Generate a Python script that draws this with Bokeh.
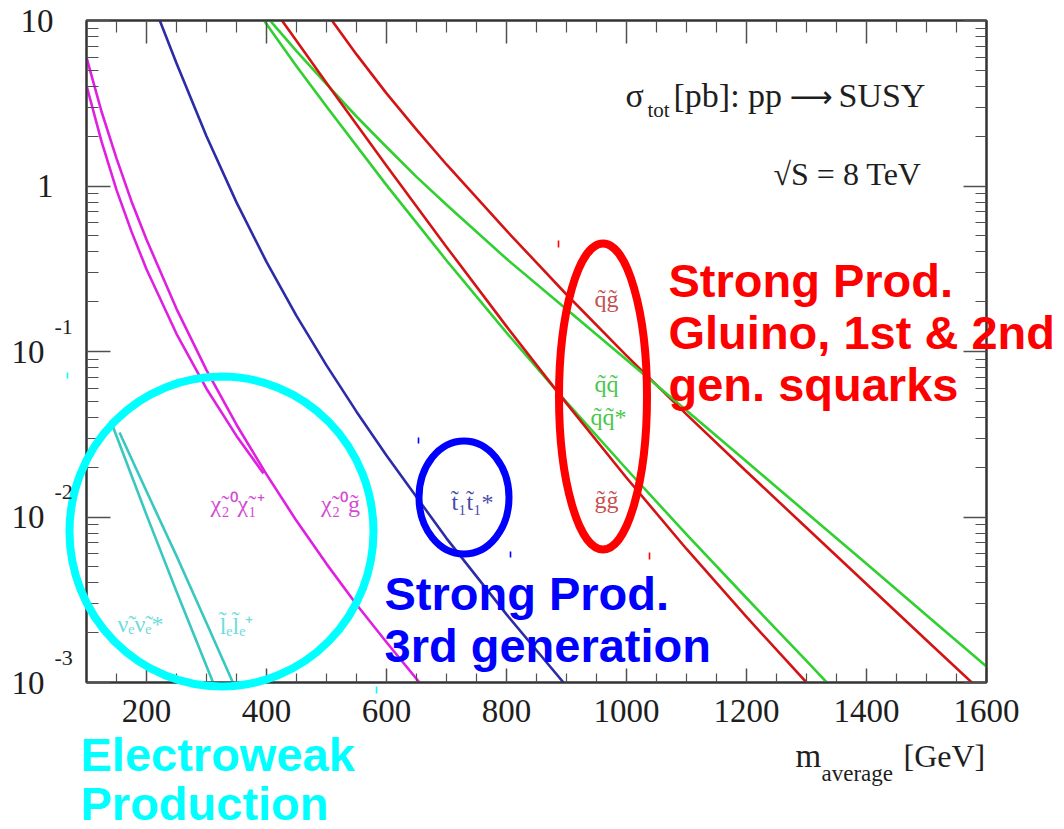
import math

from bokeh.plotting import figure
from bokeh.models import (FixedTicker, LinearAxis, LogAxis, CustomJSTickFormatter,
                          ColumnDataSource)
from bokeh.core.properties import value
from bokeh.embed import file_html
from bokeh.resources import INLINE

# ---------------------------------------------------------------------------
# Total SUSY production cross sections, pp at sqrt(s) = 8 TeV
# masses in GeV (average mass of the produced pair), cross sections in pb
# ---------------------------------------------------------------------------
M_SQ_GL = [500, 550, 600, 650, 700, 800, 900, 1000, 1100, 1200, 1300, 1400, 1500, 1580]
XS_SQ_GL = [11.1, 6.24, 3.63, 2.19, 1.349, 0.537, 0.221, 0.0944, 0.0417, 0.01884,
            0.00861, 0.00394, 0.0018, 0.000966]

M_SQ_SQ = [400, 450, 500, 550, 600, 650, 700, 800, 900, 1000, 1100, 1200, 1300, 1400,
           1500, 1600]
XS_SQ_SQ = [10.59, 6.53, 4.12, 2.63, 1.72, 1.135, 0.771, 0.363, 0.180, 0.0891, 0.0440,
            0.02163, 0.01062, 0.00521, 0.00255, 0.00125]

M_SQ_SQBAR = [390, 450, 500, 600, 700, 800, 900, 1000, 1100, 1200, 1300, 1335]
XS_SQ_SQBAR = [10.7, 5.30, 3.02, 1.012, 0.355, 0.130, 0.0495, 0.0195, 0.00785, 0.00324,
               0.00135, 0.00099]

M_GL_GL = [420, 460, 500, 600, 700, 800, 900, 1000, 1100, 1200, 1300]
XS_GL_GL = [10.7, 6.70, 4.19, 1.324, 0.4285, 0.1419, 0.0486, 0.01726, 0.00641, 0.00249, 0.0010]

M_ST_ST = [220, 250, 300, 350, 400, 450, 500, 550, 600, 700, 800, 895]
XS_ST_ST = [10.47, 5.51, 2.00, 0.796, 0.348, 0.164, 0.0824, 0.0433, 0.0235, 0.00743,
            0.00258, 0.0010]

M_N2_GL = [100, 125, 150, 175, 200, 250, 300, 350, 400, 450, 500, 550, 600, 655]
XS_N2_GL = [5.98, 2.82, 1.47, 0.807, 0.475, 0.181, 0.0771, 0.0361, 0.0181, 0.00948,
            0.00521, 0.00296, 0.00175, 0.0010]

M_N2_C1 = [100, 125, 150, 175, 200, 250, 300, 350, 395]
XS_N2_C1 = [4.05, 1.86, 0.948, 0.530, 0.314, 0.128, 0.0596, 0.0309, 0.0183]

M_SNU = [140, 200, 250, 311]
XS_SNU = [0.0384, 0.0103, 0.00355, 0.0010]

M_SLEP = [155, 200, 250, 300, 344]
XS_SLEP = [0.0324, 0.0143, 0.00582, 0.00229, 0.0010]

# axis ticks and labels
X_RANGE = (100, 1600)
Y_RANGE = (1e-3, 10)
X_MAJOR = [200, 400, 600, 800, 1000, 1200, 1400, 1600]
X_MINOR = [m for m in range(150, 1600, 50) if m not in X_MAJOR]
Y_MAJOR = [1e-3, 1e-2, 1e-1, 1, 10]
Y_MINOR = [k * 10.0 ** e for e in (-3, -2, -1, 0) for k in range(2, 10)]
Y_TICK_BASE = ["10", "10", "10", "1", "10"]
Y_TICK_EXP = ["-3", "-2", "-1", "", ""]

# ---------------------------------------------------------------------------
# page geometry (pixels)
# ---------------------------------------------------------------------------
CANVAS_W, CANVAS_H = 1064, 829
FRAME_L, FRAME_T, FRAME_W, FRAME_H = 86, 20, 900, 662
LOG_LO, LOG_HI = math.log10(Y_RANGE[0]), math.log10(Y_RANGE[1])


def at_x(px):
    """x data value under canvas pixel column px"""
    return X_RANGE[0] + (px - FRAME_L) / FRAME_W * (X_RANGE[1] - X_RANGE[0])


def at_y(py):
    """y data value under canvas pixel row py (log axis)"""
    return 10 ** (LOG_HI - (py - FRAME_T) / FRAME_H * (LOG_HI - LOG_LO))


def px_y(v):
    return FRAME_T + (LOG_HI - math.log10(v)) / (LOG_HI - LOG_LO) * FRAME_H


SERIF = "Liberation Serif"
SANS = "Liberation Sans"
INK = "#1e1e1e"

p = figure(frame_width=FRAME_W, frame_height=FRAME_H,
           x_range=X_RANGE, y_range=Y_RANGE, y_axis_type="log",
           output_backend="svg", toolbar_location=None,
           min_border_left=FRAME_L, min_border_top=FRAME_T,
           min_border_right=CANVAS_W - FRAME_L - FRAME_W,
           min_border_bottom=CANVAS_H - FRAME_T - FRAME_H)
p.xgrid.visible = False
p.ygrid.visible = False
p.background_fill_color = "white"
p.border_fill_color = "white"
p.outline_line_color = "#333333"
p.outline_line_width = 2

blank = CustomJSTickFormatter(code="return ''")
xticker = FixedTicker(ticks=X_MAJOR, minor_ticks=X_MINOR)
yticker = FixedTicker(ticks=Y_MAJOR, minor_ticks=Y_MINOR)


def style_axis(ax, major_len, minor_len):
    ax.major_tick_in = major_len
    ax.major_tick_out = 0
    ax.minor_tick_in = minor_len
    ax.minor_tick_out = 0
    ax.major_tick_line_color = "#505050"
    ax.minor_tick_line_color = "#505050"
    ax.major_tick_line_width = 1.5
    ax.minor_tick_line_width = 1.2
    ax.axis_line_color = "#333333"
    ax.axis_line_width = 2


xa = p.xaxis[0]
xa.ticker = xticker
style_axis(xa, 14, 9)
xa.major_label_text_font = SERIF
xa.major_label_text_font_size = "33px"
xa.major_label_text_color = INK
xa.major_label_standoff = 17

ya = p.yaxis[0]
ya.ticker = yticker
ya.formatter = blank
ya.major_label_standoff = 0
style_axis(ya, 24, 12)

top_axis = LinearAxis(ticker=xticker, formatter=blank, major_label_standoff=0)
style_axis(top_axis, 23, 12)
p.add_layout(top_axis, "above")

right_axis = LogAxis(ticker=yticker, formatter=blank, major_label_standoff=0)
style_axis(right_axis, 23, 11)
p.add_layout(right_axis, "right")

# ---------------------------------------------------------------------------
# cross-section curves
# ---------------------------------------------------------------------------
RED, GREEN = "#d41414", "#30d030"
curves = [
    (M_SQ_GL, XS_SQ_GL, RED),
    (M_SQ_SQ, XS_SQ_SQ, GREEN),
    (M_SQ_SQBAR, XS_SQ_SQBAR, GREEN),
    (M_GL_GL, XS_GL_GL, RED),
    (M_ST_ST, XS_ST_ST, "#2c2ca8"),
    (M_N2_GL, XS_N2_GL, "#e020e0"),
    (M_N2_C1, XS_N2_C1, "#e020e0"),
    (M_SNU, XS_SNU, "#38c8c0"),
    (M_SLEP, XS_SLEP, "#38c8c0"),
]
for xs_m, xs_v, col in curves:
    p.line(xs_m, xs_v, line_color=col, line_width=2.6, line_join="round")

# process labels next to the curves (pixel centres -> data)
T = "\u0303"
proc = ColumnDataSource(dict(
    text=["\u03c7" + T + "\u2082\u2070\u03c7" + T + "\u2081\u207a",
          "\u03c7" + T + "\u2082\u2070g" + T,
          "\u03bd" + T + "\u2091\u03bd" + T + "\u2091*",
          "l" + T + "\u2091l" + T + "\u2091\u207a",
          "t" + T + "\u2081t" + T + "\u2081*",
          "q" + T + "g" + T,
          "q" + T + "q" + T,
          "q" + T + "q" + T + "*",
          "g" + T + "g" + T],
    x=[at_x(237), at_x(340), at_x(140), at_x(236), at_x(472),
       at_x(606), at_x(606), at_x(608), at_x(606)],
    y=[at_y(503), at_y(503), at_y(623), at_y(625), at_y(501),
       at_y(298), at_y(383), at_y(416), at_y(499)],
    color=["#d24cd2", "#d24cd2", "#6fdcdc", "#6fdcdc", "#4a4aa8",
           "#c45050", "#48c848", "#48c848", "#c45050"],
))
p.text(x="x", y="y", text="text", source=proc, text_color="color",
       text_font=value(SERIF), text_font_size="24px",
       text_align="center", text_baseline="middle")

# ---------------------------------------------------------------------------
# grouping ellipses (drawn on the overlay level so they may leave the frame)
# ---------------------------------------------------------------------------
rings = [
    (221, 531, 304, 310, "#00ffff", 8),
    (463.5, 497, 90, 113, "#0000ff", 7),
    (602.5, 396, 88, 306, "#ff0000", 8),
]
for cx, cy, w, h, col, lw in rings:
    p.ellipse(x=at_x(cx), y=at_y(cy), width=w, height=h,
              width_units="screen", height_units="screen",
              fill_color=None, line_color=col, line_width=lw, level="overlay")

# little corner marks left over around each ring
marks = [
    (558, 240, 247, "#ff0000"), (649, 552, 559, "#ff0000"),
    (418, 437, 443, "#0000ff"), (510, 551, 557, "#0000ff"),
    (67, 372, 378, "#00ffff"), (376, 686, 693, "#00ffff"),
]
p.segment(x0=[at_x(m[0]) for m in marks], y0=[at_y(m[1]) for m in marks],
          x1=[at_x(m[0]) for m in marks], y1=[at_y(m[2]) for m in marks],
          line_color=[m[3] for m in marks], line_width=1.6, level="overlay")


def put(text, px, py, size, color=INK, font=SERIF, style="normal", align="left"):
    """free text whose baseline sits at canvas pixel (px, py); not clipped to the frame"""
    fs = float(size.replace("px", ""))
    mid = py - 0.36 * fs          # centre of the em box above the baseline
    p.text(x=[at_x(px)], y=[at_y(mid)], text=[text],
           text_font=value(font), text_font_size=size, text_font_style=style,
           text_color=color, text_align=align, text_baseline="middle",
           level="overlay")


# y tick labels: 10, 1, 10^-1, 10^-2, 10^-3
for v, base, exp in zip(Y_MAJOR, Y_TICK_BASE, Y_TICK_EXP):
    ty = px_y(v)
    put(base, 44 if exp else 53, ty + 12, "33px", align="right")
    if exp:
        put(exp, 54, ty - 17, "22px")

# x axis title: m_average [GeV]
put("m", 795, 767, "33px")
put("average", 821, 781, "23px")
put("[GeV]", 903, 767, "32px")

# process / energy
put("\u03c3", 625, 107, "34px")
put("tot", 647, 117, "21px")
put("[pb]: pp", 673, 107, "34px")
put("\u27f6", 789, 107, "30px", font="DejaVu Sans")
put("SUSY", 838, 107, "34px")
put("\u221aS = 8 TeV", 847, 185, "32px", align="center")

# group captions
BIG = "47px"
put("Strong Prod.", 668, 297, BIG, "#ff0000", SANS, "bold")
put("Gluino, 1st & 2nd", 668, 349, BIG, "#ff0000", SANS, "bold")
put("gen. squarks", 668, 401, BIG, "#ff0000", SANS, "bold")
put("Strong Prod.", 384, 610, BIG, "#0000ff", SANS, "bold")
put("3rd generation", 384, 662, BIG, "#0000ff", SANS, "bold")
put("Electroweak", 80, 771, BIG, "#00ffff", SANS, "bold")
put("Production", 80, 820, BIG, "#00ffff", SANS, "bold")

open("out.html", "w").write(file_html(p, INLINE))
